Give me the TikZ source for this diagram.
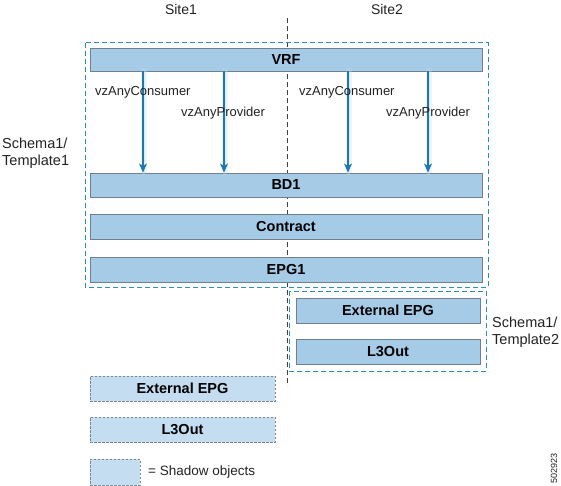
\documentclass[tikz,border=0pt]{standalone}
\usepackage{fontspec}
\setmainfont{Liberation Sans}
\usetikzlibrary{arrows.meta}
\definecolor{boxfill}{HTML}{A6CBE7}
\definecolor{boxline}{HTML}{6F7F8B}
\definecolor{shadfill}{HTML}{C4DDF1}
\definecolor{shadline}{HTML}{7A8690}
\definecolor{tplline}{HTML}{2B8CC1}
\definecolor{arrowc}{HTML}{1E77AD}
\definecolor{glowc}{HTML}{B9D7EA}
\definecolor{txtc}{HTML}{222222}
\begin{document}
\begin{tikzpicture}[x=1pt,y=-1pt,
  objbox/.style={draw=boxline,line width=0.7pt,fill=boxfill,inner sep=0pt,font=\fontsize{14.5}{16}\selectfont\bfseries},
  shadowbox/.style={draw=shadline,line width=0.7pt,dash pattern=on 2.5pt off 1.5pt,fill=shadfill,inner sep=0pt,font=\fontsize{14.5}{16}\selectfont\bfseries},
  tplbox/.style={draw=tplline,line width=1pt,dash pattern=on 5pt off 3pt},
  lbl/.style={font=\fontsize{13}{15}\selectfont,inner sep=0pt,text=txtc},
  sitelbl/.style={font=\fontsize{14}{16}\selectfont,inner sep=0pt,text=txtc},
  tpllbl/.style={font=\fontsize{14.5}{17}\selectfont,inner sep=0pt,align=left,text=txtc},
  rel/.style={draw=arrowc,line width=1.3pt,-{Stealth[length=9pt,width=8pt,inset=2.5pt]}},
  glowa/.style={draw=glowc,line width=6pt,opacity=0.25},
  glowb/.style={draw=glowc,line width=3.5pt,opacity=0.4}]
\useasboundingbox (0,0) rectangle (561,486);
% site labels
\node[sitelbl] (site1) at (181,9) {Site1};
\node[sitelbl] (site2) at (387,9) {Site2};
% divider
\coordinate (divtop) at (287,18);
\coordinate (divbot) at (287,386);
\draw[black!75,line width=1pt,dash pattern=on 5pt off 3pt] (divtop) -- (divbot);
% template boxes
\draw[tplbox] (85,43) rectangle (488,287);
\draw[tplbox] (289,291) rectangle (486,371);
% objects
\node[objbox,minimum width=392pt,minimum height=23pt] (vrf) at (286,59.5) {VRF};
\node[objbox,minimum width=392pt,minimum height=24pt] (bd1) at (286,185) {BD1};
\node[objbox,minimum width=392pt,minimum height=25pt] (contract) at (286,227) {Contract};
\node[objbox,minimum width=392pt,minimum height=25pt] (epg1) at (286,269.5) {EPG1};
\node[objbox,minimum width=184pt,minimum height=25pt] (extepg) at (388,310.5) {External EPG};
\node[objbox,minimum width=184pt,minimum height=25pt] (l3out) at (388,351.5) {L3Out};
\node[shadowbox,minimum width=185pt,minimum height=25pt] (sextepg) at (182.5,388.5) {External EPG};
\node[shadowbox,minimum width=185pt,minimum height=25pt] (sl3out) at (182.5,429.5) {L3Out};
\node[shadowbox,minimum width=50pt,minimum height=26pt] (legend) at (115,472) {};
\node[lbl,anchor=west,font=\fontsize{13.5}{15}\selectfont] (legendtxt) at (148,472) {= Shadow objects};
% arrows
\foreach \x [count=\i] in {143,224,348,428}{
  \coordinate (s\i) at (\x,71.5);
  \coordinate (e\i) at (\x,172.5);
  \draw[glowa] ([xshift=1pt,yshift=3pt]s\i) -- ([xshift=1pt,yshift=-1pt]e\i);
  \draw[glowb] ([xshift=0.5pt,yshift=2pt]s\i) -- ([xshift=0.5pt,yshift=-3pt]e\i);
  \draw[rel] (s\i) -- (e\i);
}
% arrow labels
\node[lbl,anchor=west] (c1) at (95,92) {vzAnyConsumer};
\node[lbl,anchor=west] (p1) at (181,113) {vzAnyProvider};
\node[lbl,anchor=west] (c2) at (299,92) {vzAnyConsumer};
\node[lbl,anchor=west] (p2) at (386,113) {vzAnyProvider};
% template labels
\node[tpllbl,anchor=west] (t1) at (2,153) {Schema1/\\Template1};
\node[tpllbl,anchor=west] (t2) at (492,332) {Schema1/\\Template2};
% figure number
\node[lbl,rotate=90,font=\fontsize{9}{10}\selectfont] (fig) at (554,468) {502923};
\end{tikzpicture}
\end{document}
